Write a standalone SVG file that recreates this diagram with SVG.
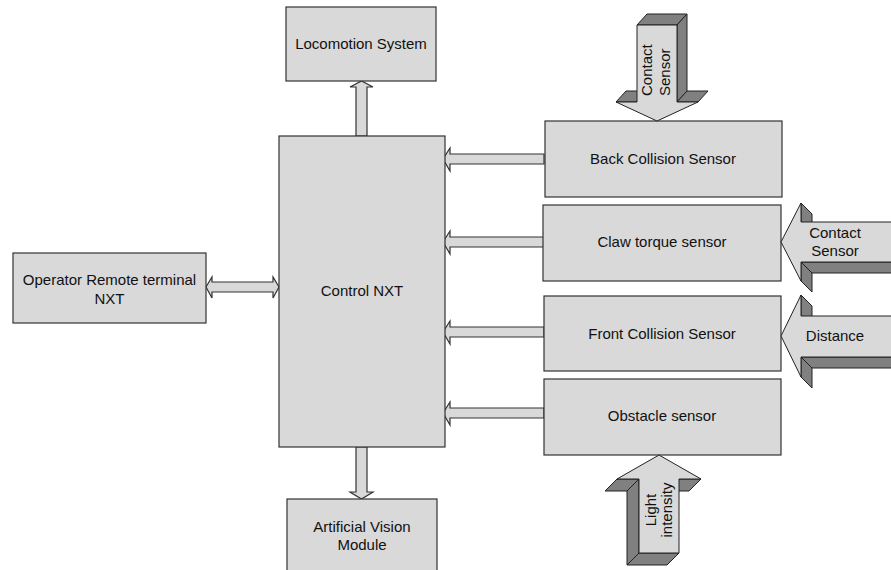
<svg xmlns="http://www.w3.org/2000/svg" width="891" height="570" viewBox="0 0 891 570">
<style>
.box{fill:#d9d9d9;stroke:#333;stroke-width:1.2}
.conn{fill:#d9d9d9;stroke:#333;stroke-width:1.2;stroke-linejoin:miter}
.face{fill:#d9d9d9;stroke:#222;stroke-width:1}
.dark{fill:#808080;stroke:#222;stroke-width:1}
text{font-family:"Liberation Sans",Arial,sans-serif;font-size:15px;fill:#111}
.c{text-anchor:middle}
</style>
<rect width="891" height="570" fill="#fff"/>
<g id="connectors">
<polygon class="conn" points="356,136 356,87 350,87 361.5,81 373,87 367,87 367,136"/>
<polygon class="conn" points="356,447 356,492 350,492 361.5,499 373,492 367,492 367,447"/>
<polygon class="conn" points="206,287 212,277 212,282 273,282 273,277 279,287 273,298 273,292 212,292 212,298"/>
<polygon class="conn" points="544,154 450,154 450,148 443,159 450,171 450,164 544,164"/>
<polygon class="conn" points="544,237 450,237 450,231 443,242 450,254 450,247 544,247"/>
<polygon class="conn" points="544,327 450,327 450,321 443,332 450,344 450,337 544,337"/>
<polygon class="conn" points="544,408 450,408 450,402 443,413 450,425 450,418 544,418"/>
</g>
<g id="locomotion">
<rect class="box" x="286" y="7" width="150" height="74"/>
<text class="c" x="361" y="49">Locomotion System</text>
</g>
<g id="control">
<rect class="box" x="279" y="136" width="166" height="311"/>
<text class="c" x="362" y="296">Control NXT</text>
</g>
<g id="operator">
<rect class="box" x="13" y="253" width="193" height="70"/>
<text class="c" x="109.5" y="285">Operator Remote terminal</text>
<text class="c" x="109.5" y="304">NXT</text>
</g>
<g id="vision">
<rect class="box" x="287" y="499" width="150" height="80"/>
<text class="c" x="362" y="532">Artificial Vision</text>
<text class="c" x="362" y="550">Module</text>
</g>
<g id="back-collision">
<rect class="box" x="545" y="121" width="237" height="76"/>
<text class="c" x="663" y="164">Back Collision Sensor</text>
</g>
<g id="claw">
<rect class="box" x="543" y="205" width="238" height="76"/>
<text class="c" x="662" y="247">Claw torque sensor</text>
</g>
<g id="front-collision">
<rect class="box" x="544" y="296" width="237" height="75"/>
<text class="c" x="662" y="339">Front Collision Sensor</text>
</g>
<g id="obstacle">
<rect class="box" x="544" y="379" width="237" height="76"/>
<text class="c" x="662" y="421">Obstacle sensor</text>
</g>
<g id="contact-top">
<polygon class="dark" points="637,25 647,14 687,14 677,25"/>
<polygon class="dark" points="677,25 687,14 687,91 677,102"/>
<polygon class="dark" points="677,102 687,91 708,91 698,102"/>
<polygon class="dark" points="616,102 637,102 647,91 626,91"/>
<polygon class="face" points="637,25 677,25 677,102 698,102 657,121 616,102 637,102"/>
<text transform="translate(652,96) rotate(-90)">Contact</text>
<text transform="translate(670,96) rotate(-90)">Sensor</text>
</g>
<g id="contact-right">
<polygon class="dark" points="801,203 812,214 812,233 801,222"/>
<polygon class="dark" points="801,262 891,262 902,273 812,273"/>
<polygon class="dark" points="801,262 801,281 812,292 812,273"/>
<polygon class="face" points="781,242 801,203 801,222 892,222 892,262 801,262 801,281"/>
<text class="c" x="835" y="238">Contact</text>
<text class="c" x="835" y="256">Sensor</text>
</g>
<g id="distance">
<polygon class="dark" points="801,295 812,306 812,327 801,316"/>
<polygon class="dark" points="801,357 891,357 902,368 812,368"/>
<polygon class="dark" points="801,357 801,377 812,388 812,368"/>
<polygon class="face" points="781,336 801,295 801,316 892,316 892,357 801,357 801,377"/>
<text class="c" x="835" y="341">Distance</text>
</g>
<g id="light">
<polygon class="dark" points="617,479 639,479 627,491 605,491"/>
<polygon class="dark" points="679,479 701,479 689,491 667,491"/>
<polygon class="dark" points="639,479 639,553 627,565 627,491"/>
<polygon class="dark" points="639,553 679,553 667,565 627,565"/>
<polygon class="face" points="659,455 701,479 679,479 679,553 639,553 639,479 617,479"/>
<text class="c" transform="translate(656,510) rotate(-90)">Light</text>
<text class="c" transform="translate(672,510) rotate(-90)">intensity</text>
</g>
</svg>
